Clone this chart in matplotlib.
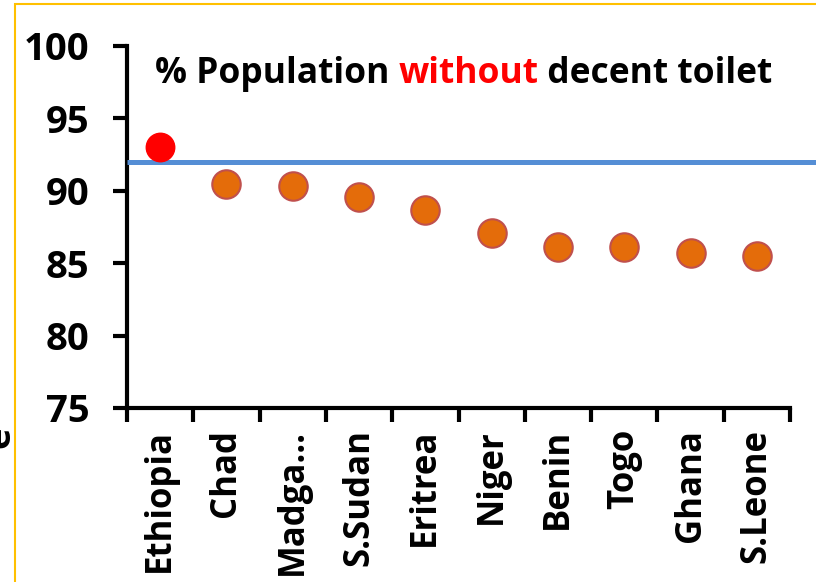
import matplotlib
matplotlib.use("Agg")
import matplotlib.pyplot as plt
from matplotlib.patches import Rectangle

# data
countries = ['Ethiopia', 'Chad', 'Madga…', 'S.Sudan', 'Eritrea', 'Niger',
             'Benin', 'Togo', 'Ghana', 'S.Leone']
pct_no_toilet = [93.0, 90.5, 90.3, 89.6, 88.7, 87.1, 86.1, 86.1, 85.7, 85.5]
highlight = 'Ethiopia'
reference_level = 92.0
y_ticks = [75, 80, 85, 90, 95, 100]

plt.rcParams['font.family'] = ['Open Sans', 'DejaVu Sans']
plt.rcParams['font.weight'] = 'bold'

fig = plt.figure(figsize=(8.16, 5.82), dpi=100)
ax = fig.add_axes([127 / 816, 1 - 408 / 582, 663 / 816, 362 / 582])

xs = list(range(1, len(countries) + 1))
for x, name, v in zip(xs, countries, pct_no_toilet):
    if name == highlight:
        ax.plot(x, v, 'o', ms=20.5, color='#FF0000', mec='#FF0000', zorder=4, clip_on=False)
    else:
        ax.plot(x, v, 'o', ms=20.5, color='#E46C0A', mec='#C0504D', mew=1.5, zorder=4)

# blue reference line runs past the plot to the picture edge
ax.plot([0.5, 11.5], [reference_level, reference_level], color='#558ED5', lw=3.6,
        clip_on=False, zorder=3, solid_capstyle='butt')

ax.set_xlim(0.5, 10.5)
ax.set_ylim(75, 100)
ax.set_yticks(y_ticks)
ax.set_xticks(xs)
ax.set_xticklabels(countries, rotation=90)
ax.set_xticks([x + 0.5 for x in range(0, len(countries) + 1)], minor=True)
ax.tick_params(axis='x', which='major', length=0, labelsize=25, pad=15)
ax.tick_params(axis='x', which='minor', length=10, width=3, direction='out')
ax.tick_params(axis='y', length=10, width=3, direction='out', labelsize=27.5, pad=17)
for lbl in ax.get_xticklabels() + ax.get_yticklabels():
    lbl.set_fontweight('bold')

for side in ['top', 'right']:
    ax.spines[side].set_visible(False)
for side in ['left', 'bottom']:
    ax.spines[side].set_linewidth(3)

# title in three colours
tsize = 25.5
t1 = ax.text(0.042, 0.898, '% Population ', transform=ax.transAxes,
             fontsize=tsize, fontweight='bold', va='baseline')
t2 = ax.annotate('without', xy=(1, 0), xycoords=t1, fontsize=tsize,
                 fontweight='bold', color='#FF0000', va='bottom')
t3 = ax.annotate(' decent toilet', xy=(1, 0), xycoords=t2, fontsize=tsize,
                 fontweight='bold', va='bottom')

# cut-off axis label at the far left
fig.text(0.0, 1 - 437 / 582, 'e', rotation=90, fontsize=26, ha='center', va='center')

# yellow frame
fig.patches.append(Rectangle((15 / 816, -0.1), 1.2, 1 - 4 / 582 + 0.1,
                             transform=fig.transFigure, fill=False,
                             edgecolor='#FFC000', lw=1.5))

fig.savefig('out.png', dpi=100)
